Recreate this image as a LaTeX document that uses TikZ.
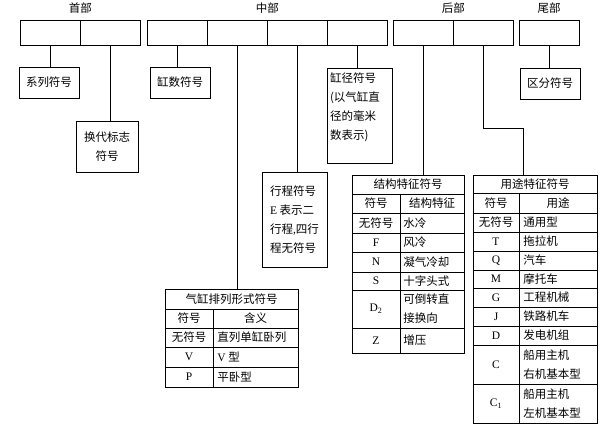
\documentclass[tikz,border=0pt]{standalone}
\usepackage{fontspec}
\setmainfont{Noto Sans CJK SC}
\newfontfamily\lat{Liberation Serif}
\usepackage{tikz}
\usetikzlibrary{positioning}

\begin{document}
\begin{tikzpicture}[x=1pt, y=-1pt, line width=0.8pt,
		font=\fontsize{11.5}{19}\selectfont,
		cell/.style={draw, minimum width=60pt, minimum height=25pt, inner sep=0pt},
		box/.style={draw, inner sep=0pt},
		txt/.style={inner sep=0pt, align=left}]
			\useasboundingbox (0,0) rectangle (600,433);
			% top row of cells
			\node[cell] (h1) at (50,32.5) {};
			\node[cell] (h2) at (110,32.5) {};
			\node[cell] (m1) at (177,32.5) {};
			\node[cell] (m2) at (237,32.5) {};
			\node[cell] (m3) at (297,32.5) {};
			\node[cell] (m4) at (357,32.5) {};
			\node[cell] (r1) at (423,32.5) {};
			\node[cell] (r2) at (483,32.5) {};
			\node[cell] (t1) at (549,32.5) {};
			\node[inner sep=0pt, above=6pt of h1.north east] (shoubu) {首部};
			\node[inner sep=0pt, above=6pt of m2.north east] (zhongbu) {中部};
			\node[inner sep=0pt, above=6pt of r1.north east] (houbu) {后部};
			\node[inner sep=0pt, above=6pt of t1.north] (weibu) {尾部};
			% simple boxes
			\node[box, minimum width=60pt, minimum height=31pt] (xilie) at (49,82.5) {系列符号};
			\node[box, minimum width=62pt, minimum height=51pt, align=center] (huandai) at (107,146.5) {换代标志\\符号};
			\node[box, minimum width=60pt, minimum height=31pt] (gangshu) at (180,82.5) {缸数符号};
			\node[box, minimum width=65pt, minimum height=95pt, align=left] (xingcheng) at (294.5,219.5) {行程符号\\{\lat E} 表示二\\行程{\lat ,}四行\\程无符号};
			\node[box, minimum width=65pt, minimum height=95pt] (gangjing) at (359.5,115.5) {};
			\node[txt, anchor=north west] (gangjingtxt) at ([xshift=3pt, yshift=-5pt]gangjing.north west) {缸径符号\\(以气缸直\\径的毫米\\数表示)};
			\node[box, minimum width=60pt, minimum height=31pt] (qufen) at (550,83.5) {区分符号};
			% table: cylinder arrangement
			\node[box, minimum width=133pt, minimum height=98pt] (pailie) at (231.5,338) {};
			\draw (165,309) -- (298,309);
			\draw (165,328) -- (298,328);
			\draw (165,347) -- (298,347);
			\draw (165,367) -- (298,367);
			\draw (213,309) -- (213,387);
			\node[txt] at (231.5,299) {气缸排列形式符号};
			\node[txt] at (189,318.5) {符号};
			\node[txt] at (255.5,318.5) {含义};
			\node[txt] at (189,337.5) {无符号};
			\node[txt, anchor=west] at (217,337.5) {直列单缸卧列};
			\node[txt] at (189,357) {\lat V};
			\node[txt, anchor=west] at (217,357) {{\lat V} 型};
			\node[txt] at (189,377) {\lat P};
			\node[txt, anchor=west] at (217,377) {平卧型};
			% table: structure
			\node[box, minimum width=112pt, minimum height=178pt] (jiegou) at (408,264) {};
			\draw (352,194) -- (464,194);
			\draw (352,213) -- (464,213);
			\draw (352,233) -- (464,233);
			\draw (352,252) -- (464,252);
			\draw (352,272) -- (464,272);
			\draw (352,290) -- (464,290);
			\draw (352,328) -- (464,328);
			\draw (400,194) -- (400,353);
			\node[txt] at (408,184.5) {结构特征符号};
			\node[txt] at (376,203.5) {符号};
			\node[txt] at (432,203.5) {结构特征};
			\node[txt] at (376,223) {无符号};
			\node[txt, anchor=west] at (403,223) {水冷};
			\node[txt] at (376,242.5) {\lat F};
			\node[txt, anchor=west] at (403,242.5) {风冷};
			\node[txt] at (376,262) {\lat N};
			\node[txt, anchor=west] at (403,262) {凝气冷却};
			\node[txt] at (376,281) {\lat S};
			\node[txt, anchor=west] at (403,281) {十字头式};
			\node[txt] at (376,309) {\lat D\textsubscript{2}};
			\node[txt, anchor=west] at (403,309) {可倒转直\\接换向};
			\node[txt] at (376,340.5) {\lat Z};
			\node[txt, anchor=west] at (403,340.5) {增压};
			% table: usage
			\node[box, minimum width=124pt, minimum height=248pt] (yongtu) at (535,299) {};
			\draw (473,193) -- (597,193);
			\draw (473,213) -- (597,213);
			\draw (473,232) -- (597,232);
			\draw (473,251) -- (597,251);
			\draw (473,270) -- (597,270);
			\draw (473,288) -- (597,288);
			\draw (473,307) -- (597,307);
			\draw (473,326) -- (597,326);
			\draw (473,345) -- (597,345);
			\draw (473,384) -- (597,384);
			\draw (519,193) -- (519,423);
			\node[txt] at (535,184) {用途特征符号};
			\node[txt] at (496,203) {符号};
			\node[txt] at (558,203) {用途};
			\node[txt] at (496,222.5) {无符号};
			\node[txt, anchor=west] at (523,222.5) {通用型};
			\node[txt] at (496,241.5) {\lat T};
			\node[txt, anchor=west] at (523,241.5) {拖拉机};
			\node[txt] at (496,260.5) {\lat Q};
			\node[txt, anchor=west] at (523,260.5) {汽车};
			\node[txt] at (496,279) {\lat M};
			\node[txt, anchor=west] at (523,279) {摩托车};
			\node[txt] at (496,297.5) {\lat G};
			\node[txt, anchor=west] at (523,297.5) {工程机械};
			\node[txt] at (496,316.5) {\lat J};
			\node[txt, anchor=west] at (523,316.5) {铁路机车};
			\node[txt] at (496,335.5) {\lat D};
			\node[txt, anchor=west] at (523,335.5) {发电机组};
			\node[txt] at (496,364.5) {\lat C};
			\node[txt, anchor=west] at (523,364.5) {船用主机\\右机基本型};
			\node[txt] at (496,403.5) {\lat C\textsubscript{1}};
			\node[txt, anchor=west] at (523,403.5) {船用主机\\左机基本型};
			% connectors
			\draw (h1.south) -- (h1.south |- xilie.north);
			\draw (h2.south) -- (h2.south |- huandai.north);
			\draw (m1.south) -- (m1.south |- gangshu.north);
			\draw (m2.south) -- (m2.south |- pailie.north);
			\draw (m3.south) -- (m3.south |- xingcheng.north);
			\draw (m4.south) -- (m4.south |- gangjing.north);
			\draw (r1.south) -- (r1.south |- jiegou.north);
			\coordinate (ytbend) at (523,128);
			\draw (r2.south) |- (ytbend) -- (ytbend |- yongtu.north);
			\draw (t1.south) -- (t1.south |- qufen.north);
		\end{tikzpicture}
\end{document}
